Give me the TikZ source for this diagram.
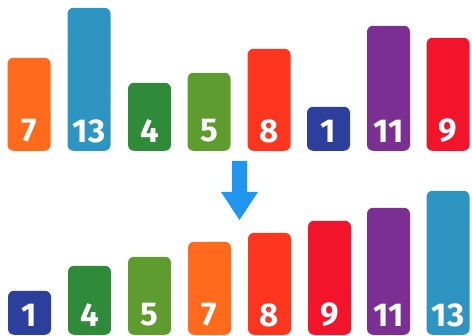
\documentclass[tikz,border=0pt]{standalone}
\usepackage{fontspec}
\setmainfont{Fira Sans}
\definecolor{cOrange}{HTML}{FF6A1C}
\definecolor{cBlue}{HTML}{2E95C2}
\definecolor{cDkGreen}{HTML}{2F8A3A}
\definecolor{cGreen}{HTML}{5E9C2F}
\definecolor{cRedOr}{HTML}{FF3520}
\definecolor{cNavy}{HTML}{2C3F9C}
\definecolor{cPurple}{HTML}{7B2F93}
\definecolor{cRed}{HTML}{F2142B}
\definecolor{cArrow}{HTML}{2196F0}
\begin{document}
\begin{tikzpicture}[x=1pt,y=-1pt,
  bar/.style={rounded corners=6pt, minimum width=43pt, inner sep=0pt, anchor=south, draw=none},
  num/.style={text=white, font=\fontsize{33}{33}\selectfont\bfseries, inner sep=0pt}]
\useasboundingbox (0,0) rectangle (472,336);
% top row
\foreach \n/\x/\t/\c in {a/29/58/cOrange, b/89/8/cBlue, c/149.5/83/cDkGreen, d/209/73/cGreen, e/269/49/cRedOr, f/328.5/107/cNavy, g/388.5/26/cPurple, h/448/38/cRed}{
  \pgfmathsetmacro{\hh}{151-\t}
  \node[bar, fill=\c, minimum height=\hh pt] (t\n) at (\x,151) {};
}
% bottom row
\foreach \n/\x/\t/\c in {a/29.5/291/cNavy, b/89.5/266/cDkGreen, c/149.5/257/cGreen, d/209.5/242/cOrange, e/269.5/233/cRedOr, f/329.5/221/cRed, g/388.5/208/cPurple, h/448/191/cBlue}{
  \pgfmathsetmacro{\hh}{335-\t}
  \node[bar, fill=\c, minimum height=\hh pt] (b\n) at (\x,335) {};
}
\foreach \n/\v in {a/7, b/13, c/4, d/5, e/8, f/1, g/11, h/9}{
  \node[num] at ([yshift=20pt]t\n.south) {\v};
}
\foreach \n/\v in {a/1, b/4, c/5, d/7, e/8, f/9, g/11, h/13}{
  \node[num] at ([yshift=20pt]b\n.south) {\v};
}
% arrow
\fill[cArrow] (232,161) -- (247,161) -- (247,192) -- (258,192) -- (239.5,220) -- (221,192) -- (232,192) -- cycle;
\end{tikzpicture}
\end{document}
